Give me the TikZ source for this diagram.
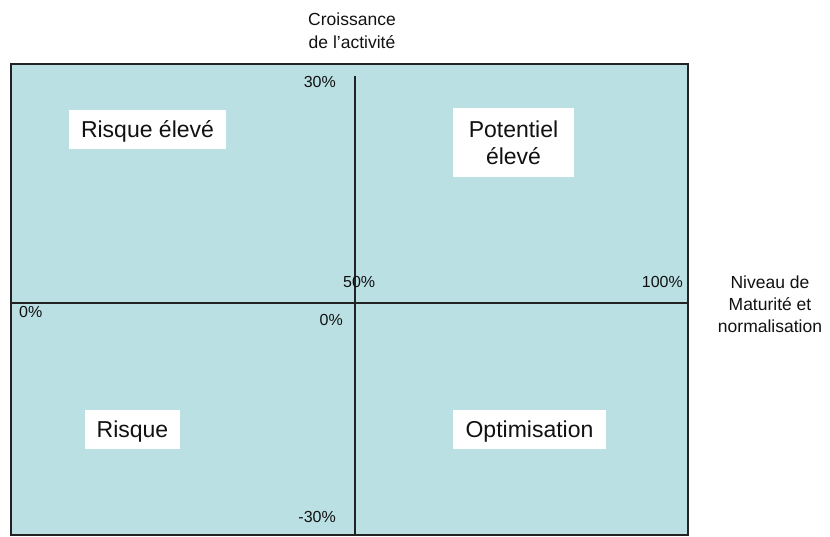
\documentclass[tikz,border=0pt]{standalone}
\usepackage{fontspec}
\setmainfont{Liberation Sans}
\definecolor{quadfill}{RGB}{186,224,227}
\definecolor{inkcol}{RGB}{17,17,17}
\definecolor{framecol}{RGB}{34,34,34}
\begin{document}
\begin{tikzpicture}[x=1pt,y=-1pt,
  axislabel/.style={inner sep=0pt,font=\fontsize{17.5}{22}\selectfont,text=inkcol,align=center,text depth=0pt},
  pct/.style={inner sep=0pt,font=\fontsize{16}{19}\selectfont,text=inkcol},
  quadbox/.style={fill=white,inner sep=0pt,font=\fontsize{23}{27}\selectfont,text=inkcol,align=center,text height=16.5pt,text depth=0pt},
  axisline/.style={draw=framecol,line width=1.5pt}]
\useasboundingbox (0,0) rectangle (830,536);
% frame
\node[draw=framecol,fill=quadfill,line width=1.5pt,inner sep=0pt,minimum width=677pt,minimum height=471pt] (frame) at (349.5,299.5) {};
% axes
\coordinate (vtop) at (355,76);
\coordinate (vbot) at (355,534.5);
\coordinate (hleft) at (11,303);
\coordinate (hright) at (688,303);
\draw[axisline] (vtop) -- (vbot);
\draw[axisline] (hleft) -- (hright);
% axis titles
\node[axislabel,font=\fontsize{17.5}{23}\selectfont,text height=36pt] (ytitle) at (352,30) {Croissance\\de l’activité};
\node[axislabel,text height=57pt] (xtitle) at (770,303.5) {Niveau de\\Maturité et\\normalisation};
% percentages
\node[pct,anchor=base east] (p30) at (336,87) {30\%};
\node[pct,anchor=base west] (p50) at (343,287) {50\%};
\node[pct,anchor=base east] (p0c) at (343,325) {0\%};
\node[pct,anchor=base east] (p100) at (683,287) {100\%};
\node[pct,anchor=base west] (p0l) at (19,317) {0\%};
\node[pct,anchor=base east] (pm30) at (336,522) {-30\%};
% quadrant labels
\node[quadbox,minimum width=157pt,minimum height=39pt] (hr) at (147.5,129.5) {Risque élevé};
\node[quadbox,minimum width=121pt,minimum height=69pt,text height=43.5pt] (hp) at (513.5,142.5) {Potentiel\\élevé};
\node[quadbox,minimum width=95pt,minimum height=39pt] (rk) at (132.5,429.5) {Risque};
\node[quadbox,minimum width=153pt,minimum height=39pt] (op) at (529.5,429.5) {Optimisation};
\end{tikzpicture}
\end{document}
